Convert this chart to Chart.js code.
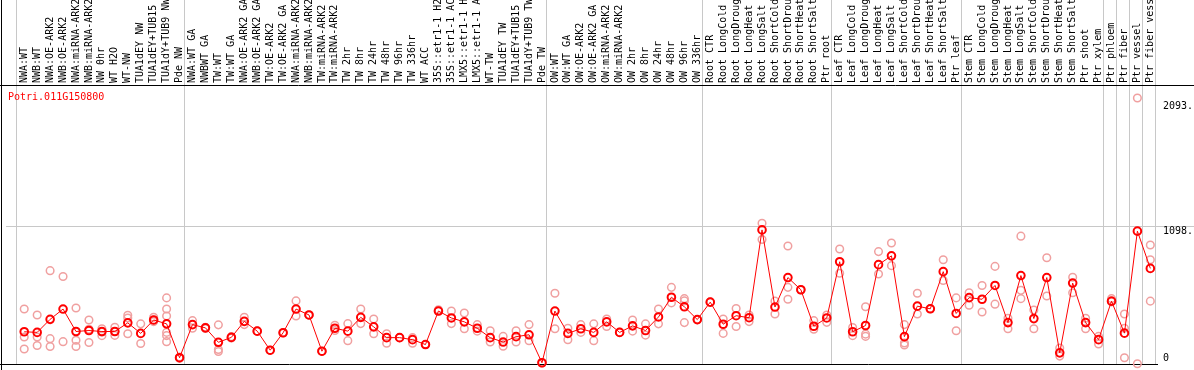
<!DOCTYPE html>
<html><head><meta charset="utf-8">
<script src="https://cdn.jsdelivr.net/npm/chart.js@4/dist/chart.umd.min.js"></script>
<style>html,body{margin:0;padding:0;background:#fff;overflow:hidden}</style>
</head><body><canvas id="c" width="1194" height="370"></canvas>
<script>
const geneId = 'Potri.011G150800';
const categories = [
 'NWA:WT','NWB:WT','NWA:OE-ARK2','NWB:OE-ARK2','NWA:miRNA-ARK2','NWB:miRNA-ARK2','NW 0hr','WT H2O','WT-NW','TUA1dEY NW','TUA1dEY+TUB15 NW','TUA1dY+TUB9 NW','Pde NW',
 'NWA:WT GA','NWBWT GA','TW:WT','TW:WT GA','NWA:OE-ARK2 GA','NWB:OE-ARK2 GA','TW:OE-ARK2','TW:OE-ARK2 GA','NWA:miRNA-ARK2','NWB:miRNA-ARK2','TW:miRNA-ARK2','TW:miRNA-ARK2','TW 2hr','TW 8hr','TW 24hr','TW 48hr','TW 96hr','TW 336hr','WT ACC','35S::etr1-1 H2O','35S::etr1-1 ACC','LMX5::etr1-1 H2O','LMX5::etr1-1 ACC','WT-TW','TUA1dEY TW','TUA1dEY+TUB15 TW','TUA1dY+TUB9 TW','Pde TW',
 'OW:WT','OW:WT GA','OW:OE-ARK2','OW:OE-ARK2 GA','OW:miRNA-ARK2','OW:miRNA-ARK2','OW 2hr','OW 8hr','OW 24hr','OW 48hr','OW 96hr','OW 336hr',
 'Root CTR','Root LongCold','Root LongDrought','Root LongHeat','Root LongSalt','Root ShortCold','Root ShortDrought','Root ShortHeat','Root ShortSalt','Ptr root',
 'Leaf CTR','Leaf LongCold','Leaf LongDrought','Leaf LongHeat','Leaf LongSalt','Leaf ShortCold','Leaf ShortDrought','Leaf ShortHeat','Leaf ShortSalt','Ptr leaf',
 'Stem CTR','Stem LongCold','Stem LongDrought','Stem LongHeat','Stem LongSalt','Stem ShortCold','Stem ShortDrought','Stem ShortHeat','Stem ShortSalt','Ptr shoot','Ptr xylem',
 'Ptr phloem','Ptr fiber','Ptr vessel','Ptr fiber vessel'
];
const means = [
 257,252,356,438,259,267,259,259,328,244,351,320,50,
 314,288,173,212,340,262,110,249,438,391,102,285,262,372,296,210,210,194,155,422,367,336,285,210,175,218,233,10,
 422,244,281,252,336,252,304,267,375,532,456,354,
 493,317,385,369,1069,454,689,592,301,367,
 815,257,307,792,862,218,461,440,736,403,
 529,516,626,330,705,362,689,89,645,330,194,
 501,246,1059,762
];
const replicates = [
 [438,215,120],[391,215,147],[744,202,139],[697,178],[446,189,139],[351,277,171],[281,254,226],[293,259,228],[388,367,241],[320,163],[372,351,338],[527,438,383,252,226,178],[55,50,45],
 [346,285],[293,283],[312,116,100],[218,207],[372,314],[262,262],[110,110],[249,249],[503,383],[391,391],[102,102],[309,267],[322,186],[438,322],[359,241],[241,165],[210,210],[210,165],[155,155],[432,422],[422,322],[406,281],[314,262],[265,175],[220,141],[265,175],[314,186],[12,8],
 [564,281],[285,194],[314,252],[320,186],[358,299],[252,252],[351,262],[320,230],[438,320],[611,487],[521,503,330],[354,354],
 [493,493],[359,244],[443,299],[391,338],[1122,993],[501,399],[941,611,516],[592,592],[346,277],[391,332],
 [917,723],[291,226],[456,238,220],[896,718],[964,784],[314,167,152],[564,399],[440,440],[831,666],[527,265],
 [568,469],[626,414],[778,477],[364,281],[1019,587,521],[430,281],[847,542],[128,63],[692,568],[364,281],[220,160],
 [521,495],[399,285,50],[2120,2],[949,831,501]
];
const groupEnds = [-1,12,40,52,62,72,83,84,85,86,87];
const gridValues = [1098];
const yTickValues = [2093,1098,0];
const yTickLabels = ['2093.','1098.','0'];

const meanPts = means.map((v,i)=>({x:i,y:v}));
const repPts = [];
replicates.forEach((arr,i)=>arr.forEach(v=>repPts.push({x:i,y:v})));

const FONT = '10px "DejaVu Sans Mono", "Liberation Mono", monospace';

const decor = {
  id:'decor',
  beforeDatasetsDraw(chart){
    const {ctx, chartArea:a, scales:{x,y}} = chart;
    ctx.save();
    ctx.strokeStyle = '#c8c8c8';
    ctx.lineWidth = 1;
    groupEnds.forEach(g=>{
      const px = Math.round(x.getPixelForValue(g+0.5) - 2) + 0.5;
      ctx.beginPath(); ctx.moveTo(px,0); ctx.lineTo(px,a.bottom); ctx.stroke();
    });
    gridValues.forEach(v=>{
      const py = Math.round(y.getPixelForValue(v)) + 0.5;
      ctx.beginPath(); ctx.moveTo(a.left,py); ctx.lineTo(chart.width,py); ctx.stroke();
    });
    ctx.strokeStyle = '#000';
    ctx.beginPath(); ctx.moveTo(0,a.top+0.5); ctx.lineTo(chart.width,a.top+0.5); ctx.stroke();
    ctx.beginPath(); ctx.moveTo(1.5,0); ctx.lineTo(1.5,chart.height); ctx.stroke();
    ctx.beginPath(); ctx.moveTo(0,a.bottom+0.5); ctx.lineTo(a.right,a.bottom+0.5); ctx.stroke();
    ctx.restore();
  },
  afterDraw(chart){
    const {ctx, chartArea:a, scales:{x,y}} = chart;
    ctx.save();
    ctx.font = FONT;
    ctx.fillStyle = '#000';
    categories.forEach((c,i)=>{
      const px = x.getPixelForValue(i);
      ctx.save();
      ctx.translate(px, a.top-2);
      ctx.rotate(-Math.PI/2);
      ctx.textAlign='left'; ctx.textBaseline='middle';
      ctx.fillText(c,0,0);
      ctx.restore();
    });
    ctx.textAlign='left';
    yTickValues.forEach((v,k)=>{
      let py = y.getPixelForValue(v)+5;
      if (py > a.bottom-6) py = a.bottom-6;
      ctx.textBaseline='middle';
      ctx.fillText(yTickLabels[k], a.right+5, py);
    });
    ctx.fillStyle = '#ff0000';
    ctx.textBaseline='middle';
    ctx.fillText(geneId, 8, a.top+12);
    ctx.restore();
  }
};

new Chart(document.getElementById('c'), {
  type:'line',
  data:{datasets:[
    {data:meanPts, borderColor:'#ff0000', borderWidth:1, pointRadius:3.8, pointBorderWidth:2,
     pointBorderColor:'#ff0000', pointBackgroundColor:'rgba(0,0,0,0)', tension:0, clip:false},
    {data:repPts, showLine:false, pointRadius:3.8, pointBorderWidth:1.5,
     pointBorderColor:'#f0a0a0', pointBackgroundColor:'rgba(0,0,0,0)', clip:false}
  ]},
  plugins:[decor],
  options:{
    responsive:false, animation:false, events:[],
    layout:{padding:{left:1,top:85,right:36,bottom:2}},
    plugins:{legend:{display:false}, tooltip:{enabled:false}},
    scales:{
      x:{type:'linear', min:-1.408, max:87.592, display:false},
      y:{min:0, max:2224, display:false}
    }
  }
});
</script>
</body></html>
